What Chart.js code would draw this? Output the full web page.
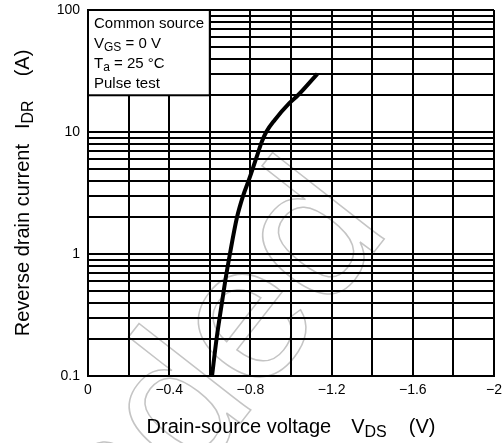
<!DOCTYPE html>
<html>
<head>
<meta charset="utf-8">
<script src="https://cdn.jsdelivr.net/npm/chart.js@4/dist/chart.umd.min.js"></script>
<style>
  html, body { margin: 0; padding: 0; background: #fff; }
  #chart { display: block; }
</style>
</head>
<body>
<canvas id="chart" width="502" height="443"></canvas>
<script>
// curve: drain-source voltage (V) vs reverse drain current (A)
const vdsValues = [-0.611, -0.633, -0.647, -0.676, -0.699, -0.734, -0.764, -0.796, -0.83, -0.856, -0.878, -0.919, -0.993, -1.034, -1.13];
const idrValues = [0.1, 0.2, 0.29, 0.6, 1, 2, 3, 4.2, 6.2, 8.3, 10, 12.5, 17.3, 20, 30];

// axis ticks
const xTickValues = [0, -0.2, -0.4, -0.6, -0.8, -1.0, -1.2, -1.4, -1.6, -1.8, -2.0];
const xTickLabels = ["0", "", "\u22120.4", "", "\u22120.8", "", "\u22121.2", "", "\u22121.6", "", "\u22122"];
const yTickValues = [0.1, 0.2, 0.3, 0.4, 0.5, 0.6, 0.7, 0.8, 0.9,
                     1, 2, 3, 4, 5, 6, 7, 8, 9,
                     10, 20, 30, 40, 50, 60, 70, 80, 90, 100];
const yTickLabels = { 0.1: "0.1", 1: "1", 10: "10", 100: "100" };

// conditions box spans these data corners
const boxX = [0, -0.6];
const boxY = [20, 100];
const boxLines = [
  [{ t: "Common source" }],
  [{ t: "V" }, { t: "GS", sub: true }, { t: " = 0 V" }],
  [{ t: "T" }, { t: "a", sub: true }, { t: " = 25 \u00B0C" }],
  [{ t: "Pulse test" }]
];

const FONT = '"Liberation Sans", Arial, Helvetica, sans-serif';
Chart.defaults.font.family = FONT;
Chart.defaults.color = "#000";

function font(size) {
  return size + "px " + FONT;
}

// draws pieces of text in a row, subscripts smaller and lower
function drawRich(ctx, parts, x, y, size, subSize, align) {
  let total = 0;
  parts.forEach(p => {
    ctx.font = font(p.sub ? subSize : size);
    p.w = ctx.measureText(p.t).width + (p.gap || 0);
    total += p.w;
  });
  let cx = align === "center" ? x - total / 2 : x;
  parts.forEach(p => {
    ctx.font = font(p.sub ? subSize : size);
    cx += p.gap || 0;
    ctx.fillText(p.t, cx, y + (p.sub ? size * 0.2 : 0));
    cx += p.w - (p.gap || 0);
  });
}

const decorations = {
  id: "decorations",
  beforeDraw(chart) {
    // faint outlined watermark
    const ctx = chart.ctx;
    ctx.save();
    ctx.translate(392, 229);
    ctx.rotate(-52 * Math.PI / 180);
    ctx.font = font(195);
    ctx.textAlign = "right";
    ctx.textBaseline = "alphabetic";
    ctx.strokeStyle = "#c4c4c4";
    ctx.lineWidth = 1.5;
    ctx.strokeText("Not recommended", 0, 0);
    ctx.restore();
  },
  afterDraw(chart) {
    const ctx = chart.ctx;
    const xs = chart.scales.x, ys = chart.scales.y;
    const area = chart.chartArea;

    // conditions box
    const l = xs.getPixelForValue(boxX[0]), r = xs.getPixelForValue(boxX[1]);
    const t = ys.getPixelForValue(boxY[1]), b = ys.getPixelForValue(boxY[0]);
    ctx.save();
    ctx.fillStyle = "#fff";
    ctx.fillRect(l, t, r - l, b - t);
    ctx.strokeStyle = "#000";
    ctx.lineWidth = 2;
    ctx.strokeRect(l, t, r - l, b - t);
    ctx.fillStyle = "#000";
    ctx.textBaseline = "alphabetic";
    ctx.textAlign = "left";
    boxLines.forEach((line, i) => {
      drawRich(ctx, line.map(p => Object.assign({}, p)), l + 6, t + 18 + i * 20, 15, 12, "left");
    });

    // axis titles
    const cx = (area.left + area.right) / 2;
    drawRich(ctx, [
      { t: "Drain-source voltage" },
      { t: "V", gap: 20 },
      { t: "DS", sub: true },
      { t: "(V)", gap: 22 }
    ], cx, 433, 20, 16, "center");

    const cy = (area.top + area.bottom) / 2;
    ctx.translate(29, cy);
    ctx.rotate(-Math.PI / 2);
    drawRich(ctx, [
      { t: "Reverse drain current" },
      { t: "I", gap: 15 },
      { t: "DR", sub: true },
      { t: "(A)", gap: 24 }
    ], 0, 0, 20, 16, "center");
    ctx.restore();
  }
};

const points = vdsValues.map((v, i) => ({ x: v, y: idrValues[i] }));

new Chart(document.getElementById("chart"), {
  type: "line",
  data: {
    datasets: [{
      data: points,
      borderColor: "#000",
      borderWidth: 4,
      pointRadius: 0,
      cubicInterpolationMode: "monotone",
      fill: false
    }]
  },
  options: {
    responsive: false,
    animation: false,
    devicePixelRatio: 1,
    layout: { padding: { top: 10, right: 8, left: 0, bottom: 0 } },
    plugins: { legend: { display: false }, tooltip: { enabled: false } },
    scales: {
      x: {
        type: "linear",
        min: -2,
        max: 0,
        reverse: true,
        afterFit(scale) {
          scale.height = 67;
          scale.paddingLeft = 0;
          scale.paddingRight = 8;
        },
        afterBuildTicks(scale) { scale.ticks = xTickValues.map(v => ({ value: v })); },
        ticks: {
          autoSkip: false,
          maxRotation: 0,
          padding: 6,
          font: { size: 14 },
          color: "#000",
          callback: (value, index) => xTickLabels[index]
        },
        grid: { color: "#000", lineWidth: 2, drawTicks: false },
        border: { color: "#000", width: 2 }
      },
      y: {
        type: "logarithmic",
        min: 0.1,
        max: 100,
        afterFit(scale) {
          scale.width = 88;
          scale.paddingTop = 0;
          scale.paddingBottom = 0;
        },
        afterBuildTicks(scale) { scale.ticks = yTickValues.map(v => ({ value: v })); },
        ticks: {
          autoSkip: false,
          padding: 8,
          font: { size: 14 },
          color: "#000",
          callback: (value) => yTickLabels[value] || ""
        },
        grid: { color: "#000", lineWidth: 2, drawTicks: false },
        border: { color: "#000", width: 2 }
      }
    }
  },
  plugins: [decorations]
});
</script>
</body>
</html>
